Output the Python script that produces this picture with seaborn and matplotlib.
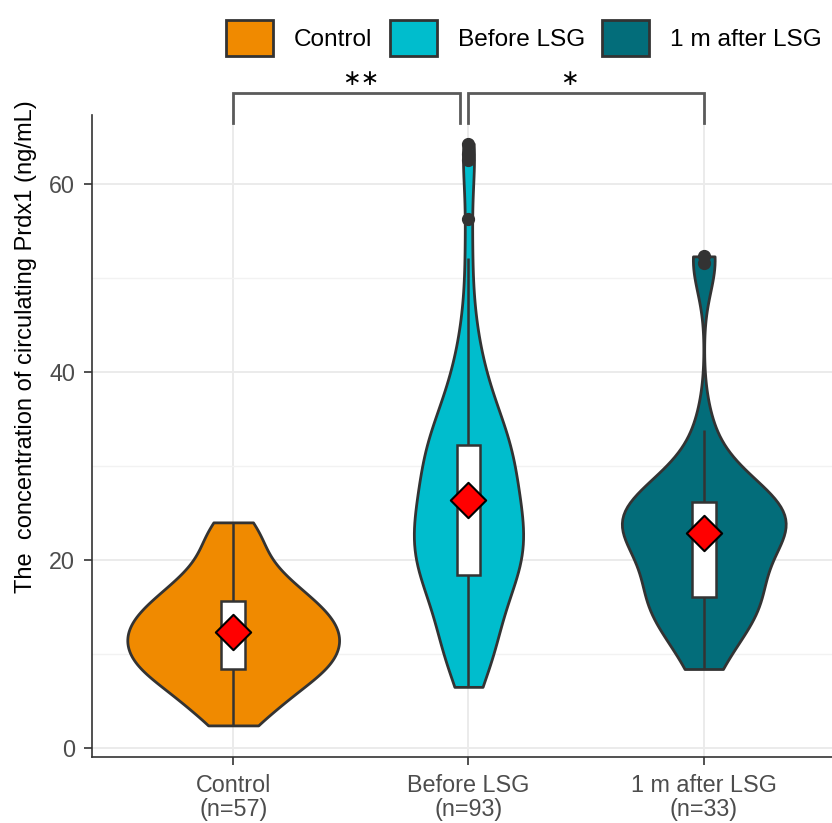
import numpy as np
import pandas as pd
import matplotlib
matplotlib.use("Agg")
import matplotlib.pyplot as plt
import seaborn as sns
from matplotlib.patches import Patch

plt.rcParams["font.family"] = ["Liberation Sans", "DejaVu Sans"]

# ---------------- data ----------------
groups = ["Control", "Before LSG", "1 m after LSG"]
tick_labels = ["Control\n(n=57)", "Before LSG\n(n=93)", "1 m after LSG\n(n=33)"]
colors = ["#F08A00", "#00BDCD", "#036D7A"]

control = [2.4, 3.1, 3.8, 4.5, 5.0, 5.6, 5.9, 6.3, 6.8, 7.2, 7.6, 7.9,
           8.2, 8.3, 8.4, 8.7, 9.0, 9.3, 9.5, 9.8,
           10.1, 10.4, 10.6, 10.9, 11.1, 11.3, 11.6, 11.8, 11.9,
           12.1, 12.4, 12.7, 13.0, 13.3, 13.5, 13.8, 13.9,
           14.2, 14.5, 14.8, 15.1, 15.4, 15.6, 15.9,
           16.3, 16.8, 17.2, 17.6, 17.9, 18.5, 19.2, 19.8,
           20.8, 21.6, 22.7, 23.4, 24.0]
before = [6.5, 7.4, 8.2, 8.9, 9.4, 9.8,
          10.3, 10.9, 11.5, 12.0, 12.6, 13.1, 13.7, 14.2, 14.7,
          15.3, 15.8, 16.2, 16.7, 17.1, 17.5, 17.9, 18.2, 18.4, 18.7, 18.9, 19.2, 19.4, 19.7, 19.9,
          20.2, 20.5, 20.8, 21.1, 21.4, 21.6, 21.8, 22.2, 22.4, 22.6, 23.0, 23.4, 23.8, 24.1,
          24.4, 24.6, 24.8, 24.9, 25.0,
          25.3, 25.7, 26.1, 26.5, 26.9, 27.3, 27.7, 28.1, 28.5, 28.8, 29.1, 29.4, 29.7,
          30.0, 30.4, 30.8, 31.1, 31.4, 31.7, 32.0, 32.2,
          32.6, 33.0, 33.5, 34.0, 34.5, 34.9,
          35.0, 35.7, 36.4, 37.1, 37.8, 38.6, 39.4,
          40.3, 41.5, 43.0, 44.8, 47.6,
          52.1, 56.3, 62.6, 63.2, 64.3]
after = [8.4, 10.5, 12.0, 13.2, 14.1, 14.8, 15.4, 15.8,
         16.1,
         17.0, 18.0, 19.0, 20.0, 20.8, 21.6, 22.4,
         23.0,
         23.3, 23.6, 23.9, 24.2, 24.5, 24.8, 25.3,
         26.2,
         26.5, 27.0, 27.6, 28.4, 29.8, 33.8,
         51.6, 52.3]

comparisons = [(0, 1, "\u2217\u2217"), (1, 2, "\u2217")]

# ---------------- table ----------------
df = pd.DataFrame({
    "group": ["Control"] * len(control) + ["Before LSG"] * len(before) + ["1 m after LSG"] * len(after),
    "value": control + before + after,
})
palette = dict(zip(groups, colors))


def nrd0(kde):
    d = np.asarray(kde.dataset).ravel()
    sd = d.std(ddof=1)
    q75, q25 = np.percentile(d, [75, 25])
    return 0.9 * min(sd, (q75 - q25) / 1.34) * d.size ** -0.2 / sd


# ---------------- figure ----------------
fig = plt.figure(figsize=(8.32, 8.23), dpi=100)
ax = fig.add_axes([0.1106, 0.0802, 0.8894, 0.7801])
ax.set_axisbelow(True)

sns.violinplot(data=df, x="group", y="value", hue="group", order=groups,
               hue_order=groups, palette=palette, legend=False,
               cut=0, density_norm="area", common_norm=True, bw_method=nrd0,
               width=0.9, inner=None, linewidth=2.0, linecolor="#333333",
               saturation=1, ax=ax)

sns.boxplot(data=df, x="group", y="value", order=groups, width=0.1,
            color="white", saturation=1, linecolor="#333333", linewidth=1.8,
            flierprops=dict(marker="o", markerfacecolor="#333333",
                            markeredgecolor="#333333", markersize=8.5),
            capprops=dict(linewidth=0), medianprops=dict(linewidth=0), ax=ax)

means = df.groupby("group")["value"].mean().reindex(groups)
ax.scatter(range(len(groups)), means.values, marker="D", s=18 ** 2,
           facecolor="red", edgecolor="black", linewidth=1.5, zorder=10)

# axes styling
ax.set_xlim(-0.6, 2.545)
ax.set_ylim(-0.96, 67.34)
ax.set_yticks([0, 20, 40, 60])
ax.set_yticks([10, 30, 50], minor=True)
ax.set_xticks(range(3))
ax.set_xticklabels(tick_labels)
for t in ax.get_xticklabels():
    t.set_linespacing(1.05)
ax.grid(True, which="major", color="#EBEBEB", linewidth=1.4)
ax.grid(True, which="minor", axis="y", color="#F2F2F2", linewidth=1.0)
ax.tick_params(axis="both", which="major", labelsize=16.8, labelcolor="#4D4D4D",
               color="#333333", length=6, width=1.2, pad=6)
ax.tick_params(axis="y", which="minor", length=0)
for s in ["top", "right"]:
    ax.spines[s].set_visible(False)
for s in ["left", "bottom"]:
    ax.spines[s].set_color("#333333")
    ax.spines[s].set_linewidth(1.2)
ax.set_xlabel("")
ax.set_ylabel("The  concentration of circulating Prdx1 (ng/mL)", fontsize=17, color="black")
ax.yaxis.set_label_coords(-0.0743, 0.6386)

# significance brackets
bracket_x = [(0.0, 0.966), (1.0, 2.0)]
star_x = [0.543, 1.43]
for (a, b, lab), (x0, x1), sx in zip(comparisons, bracket_x, star_x):
    ax.plot([x0, x0, x1, x1], [66.5, 69.7, 69.7, 66.5], color="#5A5A5A",
            linewidth=2.0, clip_on=False, solid_joinstyle="miter")
    ax.text(sx, 71.2, lab, ha="center", va="center", fontsize=16,
            family="DejaVu Sans", clip_on=False)

# legend
handles = [Patch(facecolor=c, edgecolor="#333333", linewidth=2, label=g)
           for g, c in zip(groups, colors)]
fig.legend(handles=handles, loc="center left", bbox_to_anchor=(0.2716, 0.954),
           ncol=3, frameon=False, fontsize=17.6, handlelength=1.93, handleheight=1.93,
           handletextpad=0.86, columnspacing=0.7, borderpad=0, borderaxespad=0)

fig.savefig("out.png", dpi=100)
